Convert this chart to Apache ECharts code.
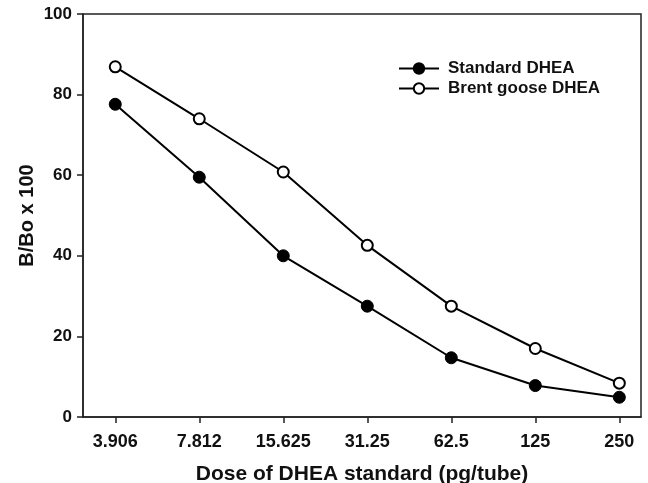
<!DOCTYPE html>
<html>
<head>
<meta charset="utf-8">
<script src="https://cdn.jsdelivr.net/npm/echarts@6/dist/echarts.min.js"></script>
<style>
  html, body { margin: 0; padding: 0; background: #fff; }
  #chart { width: 648px; height: 483px; }
</style>
</head>
<body>
<div id="chart"></div>
<script>
// dose categories (pg/tube) and B/Bo x 100 readings
const doseLabels = ['3.906', '7.812', '15.625', '31.25', '62.5', '125', '250'];
const standardDhea = [77.6, 59.5, 40.0, 27.5, 14.7, 7.8, 4.9];
const brentGooseDhea = [86.9, 74.0, 60.8, 42.6, 27.5, 17.0, 8.4];
const yTicks = [0, 20, 40, 60, 80, 100];

const FONT = '"Liberation Sans", Arial, sans-serif';
const INK = '#111';

function renderChart() {
  const dom = document.getElementById('chart');
  const chart = echarts.init(dom, null, { renderer: 'canvas' });
  const positions = doseLabels.map((_, i) => i);
  const option = {
    backgroundColor: '#fff',
    animation: false,
    textStyle: { fontFamily: FONT },
    grid: {
      left: 83,
      right: 7,
      top: 14,
      bottom: 66,
      outerBoundsMode: 'none',
      containLabel: false,
      show: true,
      borderColor: '#222',
      borderWidth: 1.5,
    },
    legend: {
      orient: 'vertical',
      left: 393,
      top: 55,
      itemWidth: 40,
      itemHeight: 13,
      itemGap: 3,
      data: ['Standard DHEA', 'Brent goose DHEA'],
      textStyle: {
        fontFamily: FONT,
        fontWeight: 'bold',
        fontSize: 17,
        color: INK,
        padding: [0, 0, 0, 4],
      },
    },
    xAxis: {
      type: 'value',
      min: -0.384,
      max: 6.258,
      name: 'Dose of DHEA standard (pg/tube)',
      nameLocation: 'middle',
      nameGap: 47,
      nameMoveOverlap: false,
      nameTextStyle: { fontFamily: FONT, fontWeight: 'bold', fontSize: 21, color: INK },
      axisLine: { onZero: false, lineStyle: { color: '#222', width: 1.5 } },
      axisTick: { inside: false, length: 6, customValues: positions, lineStyle: { color: '#222', width: 1.5 } },
      axisLabel: {
        customValues: positions,
        margin: 16,
        fontFamily: FONT,
        fontWeight: 'bold',
        fontSize: 18,
        color: INK,
        formatter: (v) => doseLabels[Math.round(v)],
      },
      splitLine: { show: false },
    },
    yAxis: {
      type: 'value',
      min: 0,
      max: 100,
      interval: 20,
      name: 'B/Bo x 100',
      nameLocation: 'middle',
      nameGap: 46,
      nameMoveOverlap: false,
      nameTextStyle: { fontFamily: FONT, fontWeight: 'bold', fontSize: 20, color: INK },
      axisLine: { show: true, onZero: false, lineStyle: { color: '#222', width: 1.5 } },
      axisTick: { show: true, inside: false, length: 6, lineStyle: { color: '#222', width: 1.5 } },
      axisLabel: {
        margin: 11,
        fontFamily: FONT,
        fontWeight: 'bold',
        fontSize: 17,
        color: INK,
        customValues: yTicks,
      },
      splitLine: { show: false },
    },
    series: [
      {
        name: 'Standard DHEA',
        type: 'line',
        symbol: 'circle',
        symbolSize: 12,
        data: standardDhea.map((v, i) => [i, v]),
        lineStyle: { color: '#000', width: 2 },
        itemStyle: { color: '#000', borderColor: '#000', borderWidth: 1 },
        z: 3,
      },
      {
        name: 'Brent goose DHEA',
        type: 'line',
        symbol: 'circle',
        symbolSize: 11,
        data: brentGooseDhea.map((v, i) => [i, v]),
        lineStyle: { color: '#000', width: 2 },
        itemStyle: { color: '#fff', borderColor: '#000', borderWidth: 2 },
        z: 3,
      },
    ],
  };
  chart.setOption(option, true);
}

renderChart();
</script>
</body>
</html>
